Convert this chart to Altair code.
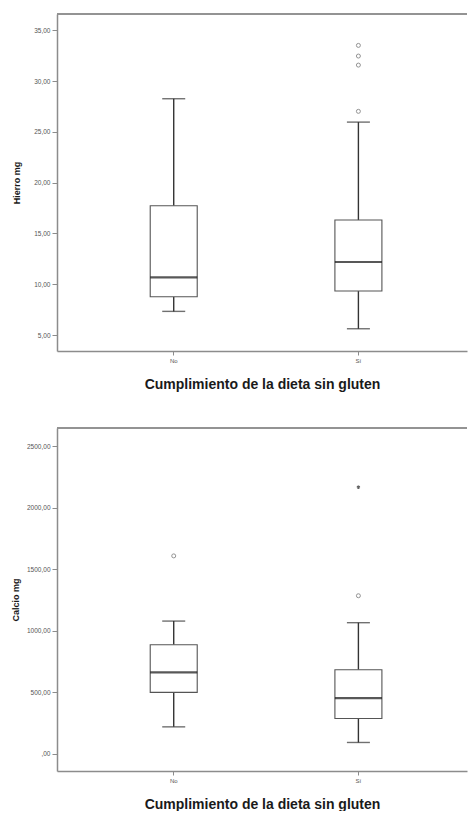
import altair as alt
import pandas as pd

cats = ["No", "Sí"]

# Hierro mg
fe_low = [7.33, 5.62]
fe_q1 = [8.77, 9.33]
fe_med = [10.68, 12.19]
fe_q3 = [17.73, 16.32]
fe_high = [28.26, 25.96]
fe_out_cat = ["Sí", "Sí", "Sí", "Sí"]
fe_out_val = [33.51, 32.46, 31.57, 27.02]

# Calcio mg
ca_low = [217, 90]
ca_q1 = [497, 285]
ca_med = [660, 450]
ca_q3 = [884, 681]
ca_high = [1077, 1064]
ca_out_cat = ["No", "Sí"]
ca_out_val = [1607, 1283]
ca_ext_cat = ["Sí"]
ca_ext_val = [2166]

fe_ticks = [5, 10, 15, 20, 25, 30, 35]
ca_ticks = [0, 500, 1000, 1500, 2000, 2500]

XTITLE = "Cumplimiento de la dieta sin gluten"
FRAME = "#8c8c8c"
BOXW = 47
CAPW = 23


def panel(low, q1, med, q3, high, out_cat, out_val, ext_cat, ext_val,
          ytitle, ticks, domain, w, h, ytp):
    df = pd.DataFrame({"cat": cats, "low": low, "q1": q1, "med": med,
                       "q3": q3, "high": high})
    xenc = alt.X("cat:N", sort=cats, title=XTITLE,
                 scale=alt.Scale(paddingInner=0, paddingOuter=0.11, align=0.6),
                 axis=alt.Axis(labelAngle=0, labelFontSize=6, labelColor="#555",
                               tickSize=4, tickColor=FRAME, domainColor=FRAME,
                               domainWidth=1.5, labelPadding=2,
                               titleFontSize=14, titleFontWeight="bold",
                               titleColor="#1a1a1a", titlePadding=14,
                               titleFont="Liberation Sans"))
    yscale = alt.Scale(domain=domain, nice=False, zero=False)
    yaxis = alt.Axis(values=ticks, grid=False,
                     labelExpr="datum.value == 0 ? ',00' : replace(format(datum.value, '.2f'), '.', ',')",
                     labelFontSize=6.5, labelColor="#555", tickSize=5,
                     tickColor=FRAME, domainColor=FRAME, domainWidth=1.5,
                     labelPadding=2, titleFontSize=9, titleFontWeight="bold",
                     titleColor="#1a1a1a", titlePadding=ytp,
                     titleFont="Liberation Sans")
    base = alt.Chart(df)
    wh_lo = base.mark_rule(color="#333", strokeWidth=1.4).encode(
        x=xenc, y=alt.Y("low:Q", scale=yscale, axis=yaxis, title=ytitle),
        y2="q1:Q")
    wh_hi = base.mark_rule(color="#333", strokeWidth=1.4).encode(
        x="cat:N", y="q3:Q", y2="high:Q")
    box = base.mark_bar(size=BOXW, fill="white", stroke="#555",
                        strokeWidth=1.1).encode(
        x="cat:N", y="q1:Q", y2="q3:Q")
    med_t = base.mark_tick(size=BOXW, thickness=2.2, color="#111").encode(
        x="cat:N", y="med:Q")
    cap_lo = base.mark_tick(size=CAPW, thickness=1.4, color="#333").encode(
        x="cat:N", y="low:Q")
    cap_hi = base.mark_tick(size=CAPW, thickness=1.4, color="#333").encode(
        x="cat:N", y="high:Q")
    top = base.mark_rule(color=FRAME, strokeWidth=1.5).encode(
        y=alt.value(0), x=alt.value(0), x2=alt.value(w))
    layers = [wh_lo, wh_hi, box, med_t, cap_lo, cap_hi, top]
    odf = pd.DataFrame({"cat": out_cat, "v": out_val})
    layers.append(alt.Chart(odf).mark_point(shape="circle", size=16,
                                            color="#666", strokeWidth=1,
                                            filled=False).encode(
        x="cat:N", y="v:Q"))
    if ext_cat:
        edf = pd.DataFrame({"cat": ext_cat, "v": ext_val})
        layers.append(alt.Chart(edf).mark_point(
            shape="M0,-1L0,1M-0.87,-0.5L0.87,0.5M-0.87,0.5L0.87,-0.5",
            size=12, color="#222", strokeWidth=1.3, filled=False).encode(
            x="cat:N", y="v:Q"))
    return alt.layer(*layers).properties(width=w, height=h)


p1 = panel(fe_low, fe_q1, fe_med, fe_q3, fe_high, fe_out_cat, fe_out_val,
           [], [], "Hierro mg", fe_ticks, [3.43, 36.6], 410, 337, 12)
p2 = panel(ca_low, ca_q1, ca_med, ca_q3, ca_high, ca_out_cat, ca_out_val,
           ca_ext_cat, ca_ext_val, "Calcio mg", ca_ticks, [-142, 2647], 410, 343, 6)

chart = alt.vconcat(p1, p2, spacing=36).properties(
    padding={"left": 3, "top": 5, "right": 0, "bottom": 0}
).configure(font="Liberation Sans").configure_view(stroke=None, strokeWidth=0)

chart.save("out.html", embed_options={"renderer": "svg", "actions": False})
